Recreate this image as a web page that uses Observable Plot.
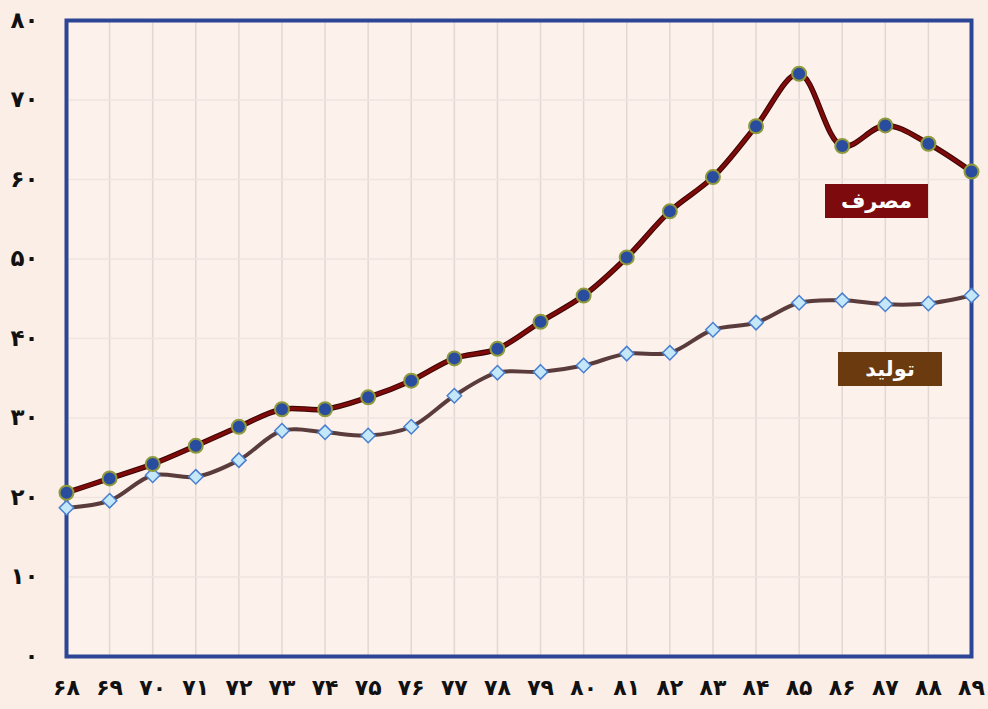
<!DOCTYPE html>
<html>
<head>
<meta charset="utf-8">
<script src="https://cdn.jsdelivr.net/npm/d3@7"></script>
<script src="https://cdn.jsdelivr.net/npm/@observablehq/plot@0.6"></script>
<style>
  html, body { margin: 0; padding: 0; background: #fbeee7; }
  #wrap { position: relative; width: 988px; height: 709px; overflow: hidden; font-family: "DejaVu Sans", sans-serif; }
  .lbl { position: absolute; color: #fff; font-weight: bold; font-size: 21px; text-align: center; line-height: 34px; direction: rtl; }
</style>
</head>
<body>
<div id="wrap"></div>
<script>
const years = [68,69,70,71,72,73,74,75,76,77,78,79,80,81,82,83,84,85,86,87,88,89];
const consumption = [20.6,22.4,24.2,26.5,28.9,31.1,31.1,32.6,34.7,37.5,38.7,42.1,45.4,50.2,56.0,60.3,66.7,73.3,64.2,66.8,64.5,61.0];
const production  = [18.7,19.6,22.8,22.6,24.7,28.4,28.2,27.8,28.9,32.8,35.7,35.8,36.6,38.1,38.2,41.1,42.0,44.5,44.8,44.3,44.4,45.4];
const yTicks = [0,10,20,30,40,50,60,70,80];
const seriesNames = ["مصرف", "تولید"];

const fa = v => String(v).replace(/\d/g, d => "۰۱۲۳۴۵۶۷۸۹"[d]);

const cons = years.map((y, i) => ({year: y, value: consumption[i]}));
const prod = years.map((y, i) => ({year: y, value: production[i]}));

const chart = Plot.plot({
  width: 988,
  height: 709,
  marginLeft: 66,
  marginRight: 17,
  marginTop: 20,
  marginBottom: 53,
  style: {background: "transparent", fontFamily: "DejaVu Sans, sans-serif"},
  x: {domain: [68, 89], ticks: years, tickFormat: fa, label: null},
  y: {domain: [0, 80], ticks: yTicks, tickFormat: fa, label: null},
  marks: [
    Plot.rect([0], {x1: 68, x2: 89, y1: 0, y2: 80, fill: "#fcf1eb"}),
    Plot.gridX(years, {stroke: "#e2d8d3", strokeOpacity: 1, strokeWidth: 1.5}),
    Plot.gridY(yTicks, {stroke: "#efe5e0", strokeOpacity: 1, strokeWidth: 1.5}),
    Plot.axisX({ticks: years, tickFormat: fa, tickSize: 0, tickPadding: 23, fontSize: 22, fontWeight: "bold", fill: "#111"}),
    Plot.axisY({ticks: yTicks, tickFormat: fa, tickSize: 0, tickPadding: 28, fontSize: 23, fontWeight: "bold", fill: "#111"}),
    Plot.line(prod, {x: "year", y: "value", stroke: "#5a3c3c", strokeWidth: 4, curve: "catmull-rom"}),
    Plot.line(cons, {x: "year", y: "value", stroke: "#3a0505", strokeWidth: 5.5, curve: "catmull-rom"}),
    Plot.line(cons, {x: "year", y: "value", stroke: "#7e0a0a", strokeWidth: 3.5, curve: "catmull-rom"}),
    Plot.frame({stroke: "#2c4594", strokeWidth: 4}),
    Plot.dot(prod, {x: "year", y: "value", symbol: "diamond2", r: 6.5, fill: "#c4e8f8", stroke: "#4a7fd0", strokeWidth: 1.5}),
    Plot.dot(cons, {x: "year", y: "value", symbol: "circle", r: 7, fill: "#2a4c9e", stroke: "#8f9a3c", strokeWidth: 2})
  ]
});

const wrap = document.getElementById("wrap");
wrap.appendChild(chart);

const labels = [
  {text: seriesNames[0], bg: "#7d0a0d", left: 825, top: 184, w: 103, h: 34},
  {text: seriesNames[1], bg: "#6b3a0f", left: 838, top: 352, w: 104, h: 34}
];
labels.forEach(l => {
  const d = document.createElement("div");
  d.className = "lbl";
  d.textContent = l.text;
  Object.assign(d.style, {left: l.left + "px", top: l.top + "px", width: l.w + "px", height: l.h + "px", background: l.bg});
  wrap.appendChild(d);
});
</script>
</body>
</html>
